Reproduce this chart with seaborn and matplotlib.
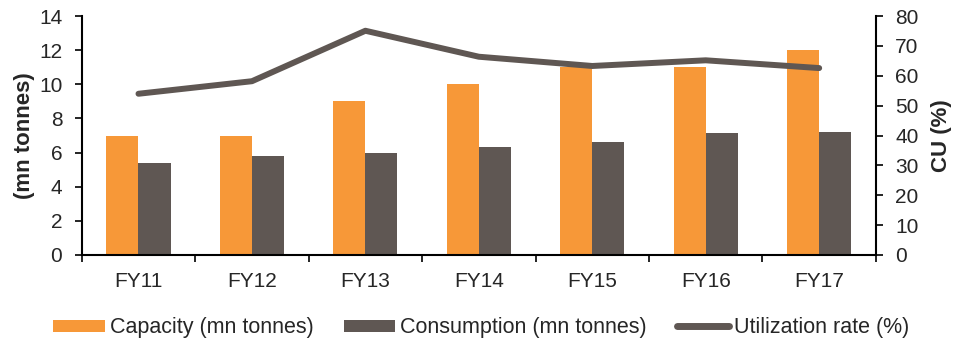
import matplotlib
matplotlib.use("Agg")
import matplotlib.pyplot as plt
import seaborn as sns
import pandas as pd
import numpy as np
from matplotlib.patches import Patch
from matplotlib.lines import Line2D
from matplotlib.ticker import FixedLocator

years = ["FY11", "FY12", "FY13", "FY14", "FY15", "FY16", "FY17"]
capacity = [7, 7, 9, 10, 11, 11, 12]
consumption = [5.4, 5.8, 6.0, 6.3, 6.6, 7.15, 7.2]
utilization = [54.0, 58.2, 75.1, 66.4, 63.3, 65.2, 62.6]

cap_label = "Capacity (mn tonnes)"
con_label = "Consumption (mn tonnes)"
util_label = "Utilization rate (%)"

orange = "#F79838"
gray = "#5F5753"

sns.set_style("white")
plt.rcParams["font.family"] = ["Liberation Sans", "DejaVu Sans"]

df = pd.DataFrame({
    "year": years * 2,
    "value": capacity + consumption,
    "series": [cap_label] * len(years) + [con_label] * len(years),
})

fig = plt.figure(figsize=(9.62, 3.43), dpi=100)
ax = fig.add_axes([0.085, 0.2566, 0.8255, 0.6964])

sns.barplot(data=df, x="year", y="value", hue="series", order=years,
            hue_order=[cap_label, con_label], palette=[orange, gray],
            width=0.566, gap=0, saturation=1, ax=ax, legend=False,
            linewidth=0, edgecolor="none")

ax.set_ylim(0, 14)
ax.set_yticks(np.arange(0, 15, 2))
ax.set_xlim(-0.5, len(years) - 0.5)
ax.set_xlabel("")
ax.set_ylabel("(mn tonnes)", fontsize=16, fontweight="bold", labelpad=3)

ax2 = ax.twinx()
ldf = pd.DataFrame({"x": np.arange(len(years)), "u": utilization})
sns.lineplot(data=ldf, x="x", y="u", color=gray, linewidth=4.3, ax=ax2,
             solid_capstyle="round", solid_joinstyle="round")
ax2.set_ylim(0, 80)
ax2.set_yticks(np.arange(0, 81, 10))
ax2.set_xlim(-0.5, len(years) - 0.5)
ax2.set_ylabel("CU (%)", fontsize=16, fontweight="bold", labelpad=9)
ax2.set_xlabel("")

for a in (ax, ax2):
    for s in a.spines.values():
        s.set_visible(False)
    a.grid(False)

ax.spines["left"].set_visible(True)
ax.spines["bottom"].set_visible(True)
ax2.spines["right"].set_visible(True)
for s in (ax.spines["left"], ax.spines["bottom"], ax2.spines["right"]):
    s.set_color("black")
    s.set_linewidth(1.5)

ax.tick_params(axis="y", which="major", direction="out", length=5, width=1.2,
               color="black", labelsize=15, left=True, pad=9)
ax2.tick_params(axis="y", which="major", direction="out", length=5, width=1.2,
                color="black", labelsize=15, right=True, pad=9)
ax.tick_params(axis="x", which="major", length=0, labelsize=15, pad=12)
ax.xaxis.set_minor_locator(FixedLocator(np.arange(-0.5, len(years), 1.0)))
ax.tick_params(axis="x", which="minor", direction="out", length=5, width=1.2,
               color="black", bottom=True)

handles = [
    Patch(facecolor=orange, edgecolor="none", label=cap_label),
    Patch(facecolor=gray, edgecolor="none", label=con_label),
    Line2D([0], [0], color=gray, linewidth=5, solid_capstyle="round", label=util_label),
]
fig.legend(handles=handles, loc="center", bbox_to_anchor=(0.5, 0.044), ncol=3,
           frameon=False, fontsize=15.5, handlelength=2.4, handleheight=0.52,
           columnspacing=1.4, handletextpad=0.23, borderpad=0, borderaxespad=0)

fig.savefig("out.png", dpi=100)
